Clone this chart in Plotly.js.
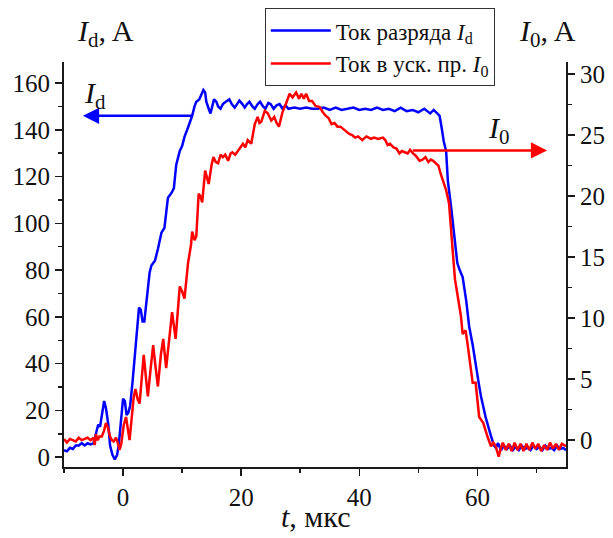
<!DOCTYPE html>
<html>
<head>
<meta charset="utf-8">
<script src="https://cdn.plot.ly/plotly-3.0.1.min.js"></script>
<style>html,body{margin:0;padding:0;background:#fff;}</style>
</head>
<body>
<div id="chart" style="width:613px;height:538px;"></div>
<script>
// Discharge current I_d (left axis, A)
const tD = [-10,-9.5,-9,-8.5,-8,-7.5,-7,-6.5,-6,-5.5,-5,-4.6,-4.2,-3.9,-3.6,-3.2,-2.9,-2.5,-2.2,-1.8,-1.4,-1.0,-0.7,-0.3,0,0.3,0.6,0.9,1.2,1.6,2.0,2.4,2.7,3.0,3.3,3.6,4.1,4.5,4.8,5.4,5.9,6.5,7.0,7.6,8.2,8.6,9.0,9.6,10.0,10.4,11.0,11.7,12.1,12.4,12.9,13.3,13.6,13.9,14.1,14.5,14.8,15.1,15.4,15.8,16.1,16.5,16.9,17.4,18.0,18.4,18.9,19.3,19.7,20.2,20.6,21.0,21.4,21.9,22.3,22.8,23.2,23.7,24.1,24.6,25.0,25.5,26,26.5,27,27.5,28,29,30,31,32,33,34,35,36,37,38,39,40,41,42,43,44,45,46,47,48,49,50,51,52,52.6,53.2,53.6,54.0,54.3,54.7,55.0,55.5,56.1,56.6,57.0,57.5,58.1,58.6,59.2,59.7,60.2,60.6,61.4,62.3,62.8,63.1,63.5,64,64.5,65,65.5,66,66.5,67,67.5,68,68.5,69,69.5,70,70.5,71,71.5,72,72.5,73,73.5,74,74.5,75];
const iD = [3,2.5,4,3.5,5,5,6,5,6,5.5,6,10,14,13,18,24,21,14,5,1,-1,1,6,18,25,24,18,19,22,32,43,55,64,63,58,58,70,79,82,84,89,96,98,111,113,115,125,131,133,137,141,146,150,152,153,155,157,156,152,149,147,150,153,152,150,149,151,152,153,151,149.5,151,152.5,151,149.5,151,152,150,149,151,152,150,149,151.5,151,149,150.5,151,149,150.5,149,149.5,149,149.5,149,149,149.5,148.5,149.5,148.5,149,149.5,148.5,149,148.5,149.5,148.5,149,148,149.5,148,148.5,147.5,149,147,148.5,147,146,140,135,131,118,108,94,83,80,77,67,56,48,39,32,26,17,9,5,4,6,3,5,3.5,5,3,4.5,3,5,3.5,4,3,5,3.5,4.5,3,5,3.5,4,3,5,3.5,4,3];

// Current in accelerating gap I_0 (right axis, A)
const t0 = [-10,-9.5,-9,-8.5,-8,-7.5,-7,-6.5,-6,-5.5,-5,-4.8,-4.6,-4.3,-4.0,-3.6,-3.2,-2.9,-2.6,-2.2,-1.9,-1.6,-1.2,-0.9,-0.6,-0.3,0.1,0.5,0.8,1.1,1.4,1.8,2.1,2.5,2.8,3.2,3.5,3.9,4.2,4.7,5.1,5.5,5.9,6.4,6.8,7.3,7.8,8.3,8.9,9.3,9.6,10.0,10.4,11.0,11.5,11.7,12.1,12.4,12.8,13.1,13.4,13.9,14.2,14.5,15.0,15.3,15.7,16.1,16.5,16.9,17.3,17.8,18.2,18.5,19.0,19.4,19.9,20.3,20.7,21.1,21.7,22.0,22.3,22.8,23.1,23.4,24.0,24.5,25.1,25.6,26.0,26.4,27.0,27.6,28.2,28.7,29.3,29.8,30.2,30.6,31.0,31.5,32.0,32.6,33.3,33.8,34.3,34.8,35.3,35.8,36.3,36.8,37.3,37.8,38.3,38.8,39.3,39.8,40.5,41.2,42,42.5,43.2,44,44.4,44.8,45.2,45.8,46.3,46.8,47.2,47.7,48.2,48.6,49.1,49.6,50.2,50.7,51.2,51.7,52.1,52.5,53.0,53.4,53.8,54.3,54.7,55.2,55.5,55.9,56.2,56.5,56.9,57.2,57.5,58.0,58.3,58.7,59.2,59.7,60.0,60.3,61.0,61.4,61.7,62.3,62.7,63.1,63.6,64.0,64.3,64.8,65.3,65.8,66.3,66.8,67.3,67.8,68.3,68.8,69.3,69.8,70.3,70.8,71.3,71.8,72.3,72.8,73.3,73.8,74.3,75];
const i0 = [0.1,-0.2,0.1,0,-0.1,0.2,0,0.1,0.2,0,0.2,-0.4,0.5,0,0.3,0.3,0.8,1.4,1.1,0.3,0,-0.1,0.2,-0.2,-0.8,-0.3,1.2,1.9,1.0,0,1.5,3.5,4.2,3.3,3.0,5.5,7.0,5.0,3.6,6,7.8,6,4.4,7,8.3,5.9,8,10.5,8.3,11,12.6,12.2,11.6,14.5,16,17.1,16.4,16.7,20.2,20,19.5,22.1,21.5,21.0,22.6,23.2,22.8,22.7,23.4,23.2,23.4,22.9,23.5,23.6,23.4,23.7,24.1,24.3,24.0,24.6,24.3,25.2,25.9,26.5,26.0,26.1,27.0,26.8,26.2,26.5,26.0,25.7,26.9,27.6,28.4,28.1,28.5,28.0,28.4,28.0,28.4,27.8,27.8,27.4,27.3,26.9,26.6,26.4,25.9,26.0,25.7,25.7,25.5,25.3,25.1,25.0,24.8,24.9,24.6,24.9,24.7,24.8,24.7,24.8,24.6,24.2,24.3,24.0,23.9,23.5,23.7,23.6,23.5,23.8,23.5,23.3,22.9,23.0,23.2,22.8,23.0,22.9,22.7,22.5,21.8,21.1,20.5,19.4,17.2,15.0,13.2,12.3,11.2,10.2,8.7,9.0,8.0,6.6,4.7,4.7,3.5,1.9,1.4,0.7,0.3,-0.5,-0.2,-0.5,-1.35,-0.6,-0.2,-0.8,-0.3,-0.9,-0.2,-0.8,-0.3,-0.9,-0.3,-0.8,-0.2,-0.7,-0.3,-0.9,-0.4,-0.8,-0.2,-0.7,-0.3,-0.8,-0.3,-0.5];

const seriesNames = ['Ток разряда <i>I</i><sub>d</sub>', 'Ток в уск. пр. <i>I</i><sub>0</sub>'];
const xTickVals = [0, 20, 40, 60];
const leftTickVals = [0, 20, 40, 60, 80, 100, 120, 140, 160];
const rightTickVals = [0, 5, 10, 15, 20, 25, 30];

const FONT = 'Times New Roman, Liberation Serif, DejaVu Serif, serif';

const traces = [
  {x: tD, y: iD, type: 'scatter', mode: 'lines', name: seriesNames[0],
   line: {color: '#0000ff', width: 2.5}, yaxis: 'y'},
  {x: t0, y: i0, type: 'scatter', mode: 'lines', name: seriesNames[1],
   line: {color: '#ff0000', width: 2.5}, yaxis: 'y2'}
];

const axCommon = {
  showline: true, linecolor: '#1a1a1a', linewidth: 2,
  ticks: 'outside', ticklen: 7, tickwidth: 1.5, tickcolor: '#1a1a1a',
  showgrid: false, zeroline: false,
  tickfont: {family: FONT, size: 25, color: '#111'}
};

const layout = {
  width: 613, height: 538,
  margin: {l: 64, r: 47, t: 62, b: 71, autoexpand: false},
  paper_bgcolor: '#fff', plot_bgcolor: '#fff',
  font: {family: FONT},
  showlegend: true,
  legend: {x: 0.4, y: 1.133, xanchor: 'left', yanchor: 'top',
    bgcolor: '#fff', bordercolor: '#333', borderwidth: 1,
    font: {family: FONT, size: 23, color: '#111'}, itemwidth: 60,
    tracegroupgap: 0},
  xaxis: Object.assign({}, axCommon, {range: [-10, 75], tickvals: xTickVals,
    minor: {ticks: 'outside', ticklen: 4, tickwidth: 1.5, tickcolor: '#1a1a1a', dtick: 10, tick0: 0}}),
  yaxis: Object.assign({}, axCommon, {range: [-4.2, 169], tickvals: leftTickVals,
    minor: {ticks: 'outside', ticklen: 4, tickwidth: 1.5, tickcolor: '#1a1a1a', dtick: 10, tick0: 0}}),
  yaxis2: Object.assign({}, axCommon, {range: [-2.2, 31], tickvals: rightTickVals,
    overlaying: 'y', side: 'right',
    minor: {ticks: 'outside', ticklen: 4, tickwidth: 1.5, tickcolor: '#1a1a1a', dtick: 2.5, tick0: 0}}),
  annotations: [
    {xref: 'paper', yref: 'paper', x: 0.022, y: 1.074, yshift: 20, showarrow: false,
     text: '<i>I</i><sub>d</sub>, A', font: {family: FONT, size: 30, color: '#111'}},
    {xref: 'paper', yref: 'paper', x: 1.024, y: 1.074, yshift: 20, showarrow: false,
     text: '<i>I</i><sub>0</sub>, A', font: {family: FONT, size: 30, color: '#111'}},
    {xref: 'paper', yref: 'paper', x: 0.5, y: -0.131, yshift: -15, showarrow: false,
     text: '<i>t</i>, мкс', font: {family: FONT, size: 30, color: '#111'}},
    {xref: 'x', yref: 'y', x: -6.8, y: 146, axref: 'x', ayref: 'y', ax: 12.1, ay: 146,
     showarrow: true, arrowhead: 2, arrowsize: 1.3, arrowwidth: 2.5, arrowcolor: '#0000ff', text: ''},
    {xref: 'x', yref: 'y', x: -4.8, y: 155, showarrow: false,
     text: '<i>I</i><sub>d</sub>', font: {family: FONT, size: 30, color: '#111'}},
    {xref: 'x', yref: 'y2', x: 71.8, y: 23.75, axref: 'x', ayref: 'y2', ax: 48.8, ay: 23.75,
     showarrow: true, arrowhead: 2, arrowsize: 1.3, arrowwidth: 2.5, arrowcolor: '#ff0000', text: ''},
    {xref: 'x', yref: 'y2', x: 63.7, y: 25.4, showarrow: false,
     text: '<i>I</i><sub>0</sub>', font: {family: FONT, size: 30, color: '#111'}}
  ]
};

Plotly.newPlot('chart', traces, layout, {displayModeBar: false, staticPlot: true});
</script>
</body>
</html>
